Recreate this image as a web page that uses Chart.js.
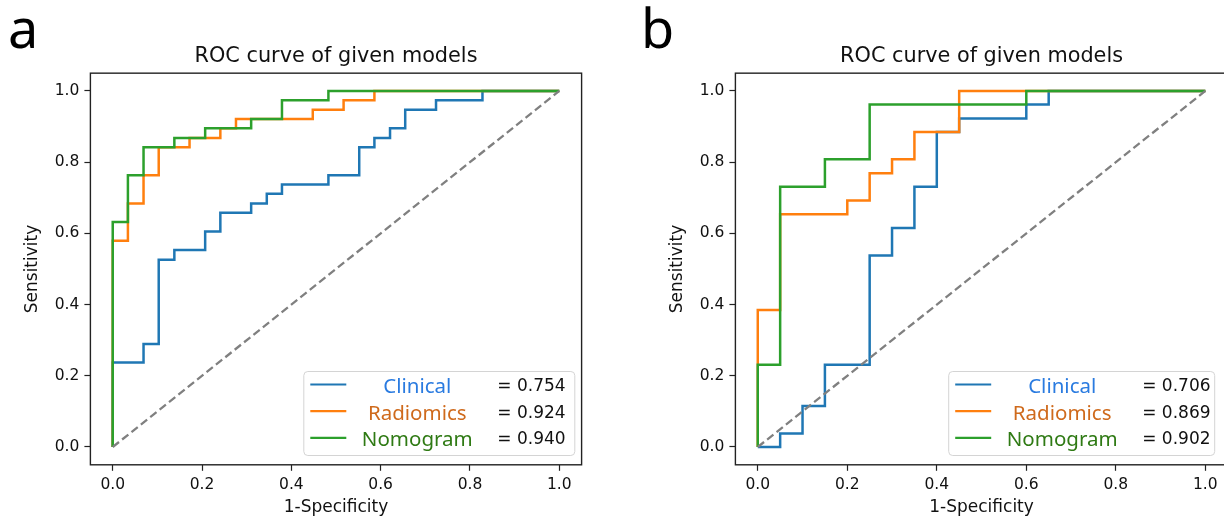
<!DOCTYPE html>
<html>
<head>
<meta charset="utf-8">
<script src="https://cdn.jsdelivr.net/npm/chart.js@4.4.1/dist/chart.umd.min.js"></script>
<style>
  html, body { margin: 0; padding: 0; background: #fff; overflow: hidden; }
  body { width: 1224px; height: 522px; position: relative; }
  canvas { position: absolute; top: 0; }
  .panel-letter { position: absolute; top: 0px; font-family: "Noto Sans", sans-serif; font-size: 54px; line-height: 54px; color: #000; }
</style>
</head>
<body>
<div class="panel-letter" style="left:8px">a</div>
<div class="panel-letter" style="left:641px">b</div>
<canvas id="rocA" width="612" height="522" style="left:0"></canvas>
<canvas id="rocB" width="640" height="522" style="left:612px"></canvas>
<script>
// ROC curves: (1-specificity, sensitivity) corner points
const modelNames = ['Clinical', 'Radiomics', 'Nomogram'];
const aucA = ['0.754', '0.924', '0.940'];
const aucB = ['0.706', '0.869', '0.902'];
const xTicks = [0.0, 0.2, 0.4, 0.6, 0.8, 1.0];
const yTicks = [0.0, 0.2, 0.4, 0.6, 0.8, 1.0];
const chanceX = [0, 1];
const chanceY = [0, 1];

const fprClinicalA = [0, 0, 0.069, 0.069, 0.103, 0.103, 0.138, 0.138, 0.207, 0.207, 0.241, 0.241, 0.310, 0.310, 0.345, 0.345, 0.379, 0.379, 0.483, 0.483, 0.552, 0.552, 0.586, 0.586, 0.621, 0.621, 0.655, 0.655, 0.724, 0.724, 0.828, 0.828, 1];
const tprClinicalA = [0, 0.237, 0.237, 0.289, 0.289, 0.526, 0.526, 0.553, 0.553, 0.605, 0.605, 0.658, 0.658, 0.684, 0.684, 0.711, 0.711, 0.737, 0.737, 0.763, 0.763, 0.842, 0.842, 0.868, 0.868, 0.895, 0.895, 0.947, 0.947, 0.974, 0.974, 1, 1];
const fprRadiomicsA = [0, 0, 0.034, 0.034, 0.069, 0.069, 0.103, 0.103, 0.172, 0.172, 0.241, 0.241, 0.276, 0.276, 0.448, 0.448, 0.517, 0.517, 0.586, 0.586, 1];
const tprRadiomicsA = [0, 0.579, 0.579, 0.684, 0.684, 0.763, 0.763, 0.842, 0.842, 0.868, 0.868, 0.895, 0.895, 0.921, 0.921, 0.947, 0.947, 0.974, 0.974, 1, 1];
const fprNomogramA = [0, 0, 0.034, 0.034, 0.069, 0.069, 0.138, 0.138, 0.207, 0.207, 0.310, 0.310, 0.379, 0.379, 0.483, 0.483, 1];
const tprNomogramA = [0, 0.632, 0.632, 0.763, 0.763, 0.842, 0.842, 0.868, 0.868, 0.895, 0.895, 0.921, 0.921, 0.974, 0.974, 1, 1];

const fprClinicalB = [0, 0.05, 0.05, 0.1, 0.1, 0.15, 0.15, 0.25, 0.25, 0.3, 0.3, 0.35, 0.35, 0.4, 0.4, 0.45, 0.45, 0.6, 0.6, 0.65, 0.65, 1];
const tprClinicalB = [0, 0, 0.038, 0.038, 0.115, 0.115, 0.231, 0.231, 0.538, 0.538, 0.615, 0.615, 0.731, 0.731, 0.885, 0.885, 0.923, 0.923, 0.962, 0.962, 1, 1];
const fprRadiomicsB = [0, 0, 0.05, 0.05, 0.2, 0.2, 0.25, 0.25, 0.3, 0.3, 0.35, 0.35, 0.45, 0.45, 1];
const tprRadiomicsB = [0, 0.385, 0.385, 0.654, 0.654, 0.692, 0.692, 0.769, 0.769, 0.808, 0.808, 0.885, 0.885, 1, 1];
const fprNomogramB = [0, 0, 0.05, 0.05, 0.15, 0.15, 0.25, 0.25, 0.6, 0.6, 1];
const tprNomogramB = [0, 0.231, 0.231, 0.731, 0.731, 0.808, 0.808, 0.962, 0.962, 1, 1];

const lineColors = ['#1f77b4', '#ff7f0e', '#2ca02c'];
const textColors = ['#2a7be0', '#cf6a1c', '#2f7a14'];

function toPoints(xs, ys) {
    return xs.map((x, i) => ({ x: x, y: ys[i] }));
}

// frame round the plot area
const framePlugin = {
    id: 'frame',
    afterDatasetsDraw(chart) {
        const a = chart.chartArea;
        const ctx = chart.ctx;
        ctx.save();
        ctx.strokeStyle = '#222';
        ctx.lineWidth = 1.4;
        ctx.strokeRect(a.left, a.top, a.right - a.left, a.bottom - a.top);
        ctx.restore();
    }
};

// legend with coloured names and AUC values
const aucLegendPlugin = {
    id: 'aucLegend',
    afterDraw(chart, args, opts) {
        const a = chart.chartArea;
        const ctx = chart.ctx;
        const w = opts.width, h = 84;
        const left = a.right - opts.right - w;
        const top = a.bottom - opts.bottom - h;
        ctx.save();
        ctx.beginPath();
        ctx.roundRect(left + 0.5, top + 0.5, w, h, 4);
        ctx.fillStyle = 'rgba(255,255,255,0.85)';
        ctx.fill();
        ctx.strokeStyle = '#d4d4d4';
        ctx.lineWidth = 1;
        ctx.stroke();
        opts.names.forEach((name, i) => {
            const y = top + 13.5 + i * 26.7;
            ctx.beginPath();
            ctx.strokeStyle = lineColors[i];
            ctx.lineWidth = 2.2;
            ctx.moveTo(left + 7, y);
            ctx.lineTo(left + 43, y);
            ctx.stroke();
            ctx.fillStyle = textColors[i];
            ctx.font = '20.5px "Noto Sans"';
            ctx.textAlign = 'center';
            ctx.textBaseline = 'alphabetic';
            ctx.fillText(name, left + 114, y + 8.5);
            ctx.fillStyle = '#111';
            ctx.font = '17px "DejaVu Sans"';
            ctx.textAlign = 'left';
            ctx.fillText('= ' + opts.values[i], left + 194, y + 6.5);
        });
        ctx.restore();
    }
};

function makePanel(canvasId, series, aucValues, pad, legendPos) {
    const datasets = series.map((s, i) => ({
        label: modelNames[i],
        data: toPoints(s[0], s[1]),
        borderColor: lineColors[i],
        borderWidth: 2.5,
        pointRadius: 0,
        tension: 0,
        fill: false,
        order: 4 - i
    }));
    datasets.push({
        label: 'chance',
        data: toPoints(chanceX, chanceY),
        borderColor: 'grey',
        borderWidth: 2.3,
        borderDash: [8, 4],
        pointRadius: 0,
        fill: false,
        order: 1
    });

    const tickFont = { family: 'DejaVu Sans', size: 15.5 };
    return new Chart(document.getElementById(canvasId), {
        type: 'line',
        data: { datasets: datasets },
        options: {
            responsive: false,
            animation: false,
            devicePixelRatio: 1,
            layout: { padding: pad },
            plugins: {
                legend: { display: false },
                tooltip: { enabled: false },
                title: {
                    display: true,
                    text: 'ROC curve of given models',
                    fullSize: false,
                    color: '#111',
                    font: { family: 'DejaVu Sans', size: 20.8, weight: 'normal', lineHeight: 1.2 },
                    padding: { top: 44, bottom: 4.2 }
                },
                aucLegend: { names: modelNames, values: aucValues, width: legendPos.width, right: legendPos.right, bottom: legendPos.bottom }
            },
            scales: {
                x: {
                    type: 'linear',
                    min: -0.05,
                    max: 1.05,
                    afterBuildTicks: (scale) => { scale.ticks = xTicks.map(v => ({ value: v })); },
                    afterFit: (scale) => { scale.height = 57.2; },
                    ticks: { color: '#111', font: tickFont, padding: 5, maxRotation: 0, callback: (v) => v.toFixed(1) },
                    grid: { drawOnChartArea: false, drawTicks: true, tickLength: 6, tickColor: '#222', tickWidth: 1.2 },
                    border: { display: false },
                    title: { display: true, text: '1-Specificity', color: '#111', font: { family: 'DejaVu Sans', size: 17 }, padding: { top: 0, bottom: 3.8 } }
                },
                y: {
                    type: 'linear',
                    min: -0.05,
                    max: 1.05,
                    afterBuildTicks: (scale) => { scale.ticks = yTicks.map(v => ({ value: v })); },
                    afterFit: (scale) => { scale.width = 70.4; },
                    ticks: { color: '#111', font: tickFont, padding: 5, callback: (v) => v.toFixed(1) },
                    grid: { drawOnChartArea: false, drawTicks: true, tickLength: 6, tickColor: '#222', tickWidth: 1.2 },
                    border: { display: false },
                    title: { display: true, text: 'Sensitivity', color: '#111', font: { family: 'DejaVu Sans', size: 17 }, padding: { top: 2.8, bottom: 0 } }
                }
            }
        },
        plugins: [framePlugin, aucLegendPlugin]
    });
}

makePanel('rocA',
    [[fprClinicalA, tprClinicalA], [fprRadiomicsA, tprRadiomicsA], [fprNomogramA, tprNomogramA]],
    aucA,
    { left: 20, right: 30.4, top: 0, bottom: 0 },
    { width: 271, right: 7.3, bottom: 9.8 });

makePanel('rocB',
    [[fprClinicalB, tprClinicalB], [fprRadiomicsB, tprRadiomicsB], [fprNomogramB, tprNomogramB]],
    aucB,
    { left: 53, right: 24.3, top: 0, bottom: 0 },
    { width: 266, right: 13.5, bottom: 9.8 });
</script>
</body>
</html>
